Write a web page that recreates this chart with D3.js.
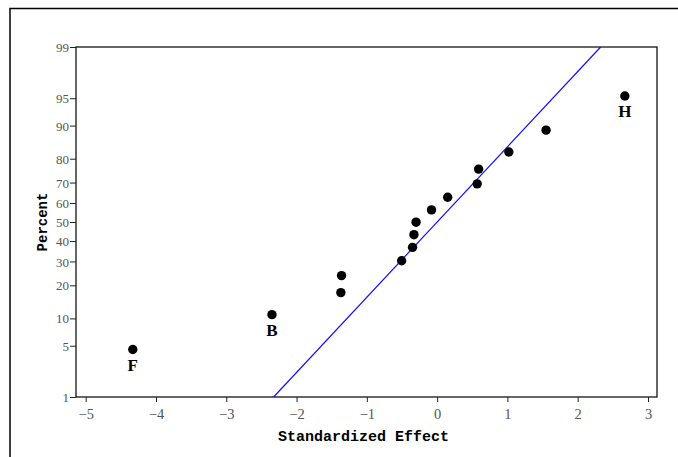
<!DOCTYPE html>
<html><head><meta charset="utf-8">
<script src="https://cdn.jsdelivr.net/npm/d3@7"></script>
<style>body{margin:0;background:#fff}svg{display:block}</style>
</head><body>
<svg id="chart" width="678" height="457"></svg>
<script>
// ---- data ----
const effects = [-4.33, -2.35, -1.37, -1.36, -0.505, -0.35, -0.33, -0.30, -0.08, 0.15, 0.57, 0.59, 1.02, 1.55, 2.67];
const percents = [4.5, 10.9, 17.4, 23.8, 30.3, 36.8, 43.3, 49.9, 56.4, 62.9, 69.4, 75.9, 82.4, 88.9, 95.3];
const pointLabels = ["F", "B", "", "", "", "", "", "", "", "", "", "", "", "", "H"];
const lineEffect = [-2.3263, 2.3263];
const linePercent = [1, 99];
const xTicks = [-5, -4, -3, -2, -1, 0, 1, 2, 3];
const yTicks = [1, 5, 10, 20, 30, 40, 50, 60, 70, 80, 90, 95, 99];

// inverse normal CDF (Acklam)
function normInv(p) {
  const a=[-3.969683028665376e+01,2.209460984245205e+02,-2.759285104469687e+02,1.383577518672690e+02,-3.066479806614716e+01,2.506628277459239e+00];
  const b=[-5.447609879822406e+01,1.615858368580409e+02,-1.556989798598866e+02,6.680131188771972e+01,-1.328068155633499e+01];
  const c=[-7.784894002430293e-03,-3.223964580411365e-01,-2.400758277161838e+00,-2.549732539343734e+00,4.374664141464968e+00,2.938163982698783e+00];
  const d=[7.784695709041462e-03,3.224671290700398e-01,2.445134137142996e+00,3.754408559067185e+00];
  const pl=0.02425;
  let q,r;
  if (p<pl){q=Math.sqrt(-2*Math.log(p));return (((((c[0]*q+c[1])*q+c[2])*q+c[3])*q+c[4])*q+c[5])/((((d[0]*q+d[1])*q+d[2])*q+d[3])*q+1);}
  if (p<=1-pl){q=p-0.5;r=q*q;return (((((a[0]*r+a[1])*r+a[2])*r+a[3])*r+a[4])*r+a[5])*q/(((((b[0]*r+b[1])*r+b[2])*r+b[3])*r+b[4])*r+1);}
  q=Math.sqrt(-2*Math.log(1-p));return -(((((c[0]*q+c[1])*q+c[2])*q+c[3])*q+c[4])*q+c[5])/((((d[0]*q+d[1])*q+d[2])*q+d[3])*q+1);
}

const svg = d3.select("#chart");
const L = 76, R = 657, T = 47, B = 397;
const x = d3.scaleLinear().domain([-5.138, 3.128]).range([L, R]);
const zMax = normInv(0.99);
const yz = d3.scaleLinear().domain([-zMax, zMax]).range([B, T]);
const y = p => yz(normInv(p / 100));

// outer frame
svg.append("path").attr("d", `M10,457 V8.5 H678`).attr("fill","none").attr("stroke","#000").attr("stroke-width",1.5);

// plot box
svg.append("rect").attr("x", L).attr("y", T).attr("width", R - L).attr("height", B - T)
  .attr("fill", "none").attr("stroke", "#000").attr("stroke-width", 1.2);

// x axis
const xAxis = svg.append("g").attr("transform", `translate(0,${B})`)
  .call(d3.axisBottom(x).tickValues(xTicks).tickSize(5).tickSizeOuter(0).tickFormat(d3.format("d")));
xAxis.select(".domain").remove();
xAxis.selectAll(".tick line").attr("stroke", "#222");
xAxis.selectAll(".tick text").attr("y", 22).attr("dy", 0)
  .attr("font-family", "Liberation Serif").attr("font-size", 14.5).attr("fill", "#555");

// y axis
const yAxis = svg.append("g").attr("transform", `translate(${L},0)`)
  .call(d3.axisLeft(yz).tickValues(yTicks.map(p => normInv(p / 100)))
    .tickFormat((d, i) => yTicks[i]).tickSize(6).tickSizeOuter(0));
yAxis.select(".domain").remove();
yAxis.selectAll(".tick line").attr("stroke", "#222");
yAxis.selectAll(".tick text").attr("x", -7).attr("dy", "0.35em")
  .attr("font-family", "Liberation Serif").attr("font-size", 13).attr("fill", "#555");

// reference line
svg.append("path")
  .datum(lineEffect.map((e, i) => [e, linePercent[i]]))
  .attr("d", d3.line().x(d => x(d[0])).y(d => y(d[1])))
  .attr("stroke", "#1010ff").attr("stroke-width", 1.2).attr("fill", "none");

// points
svg.append("g").selectAll("circle").data(effects).join("circle")
  .attr("cx", d => x(d)).attr("cy", (d, i) => y(percents[i])).attr("r", 4.7).attr("fill", "#000");

// point labels
svg.append("g").selectAll("text").data(effects).join("text")
  .attr("x", d => x(d)).attr("y", (d, i) => y(percents[i]) + 21)
  .attr("text-anchor", "middle").attr("font-family", "Liberation Serif").attr("font-weight", "bold")
  .attr("font-size", 17).text((d, i) => pointLabels[i]);

// axis titles
svg.append("text").attr("x", (L + R) / 2 - 3).attr("y", 441).attr("text-anchor", "middle")
  .attr("font-family", "Liberation Mono").attr("font-weight", "bold").attr("font-size", 15)
  .text("Standardized Effect");
svg.append("text").attr("transform", `translate(47,${(T + B) / 2}) rotate(-90)`).attr("text-anchor", "middle")
  .attr("font-family", "Liberation Mono").attr("font-weight", "bold").attr("font-size", 14)
  .text("Percent");
</script>
</body></html>
